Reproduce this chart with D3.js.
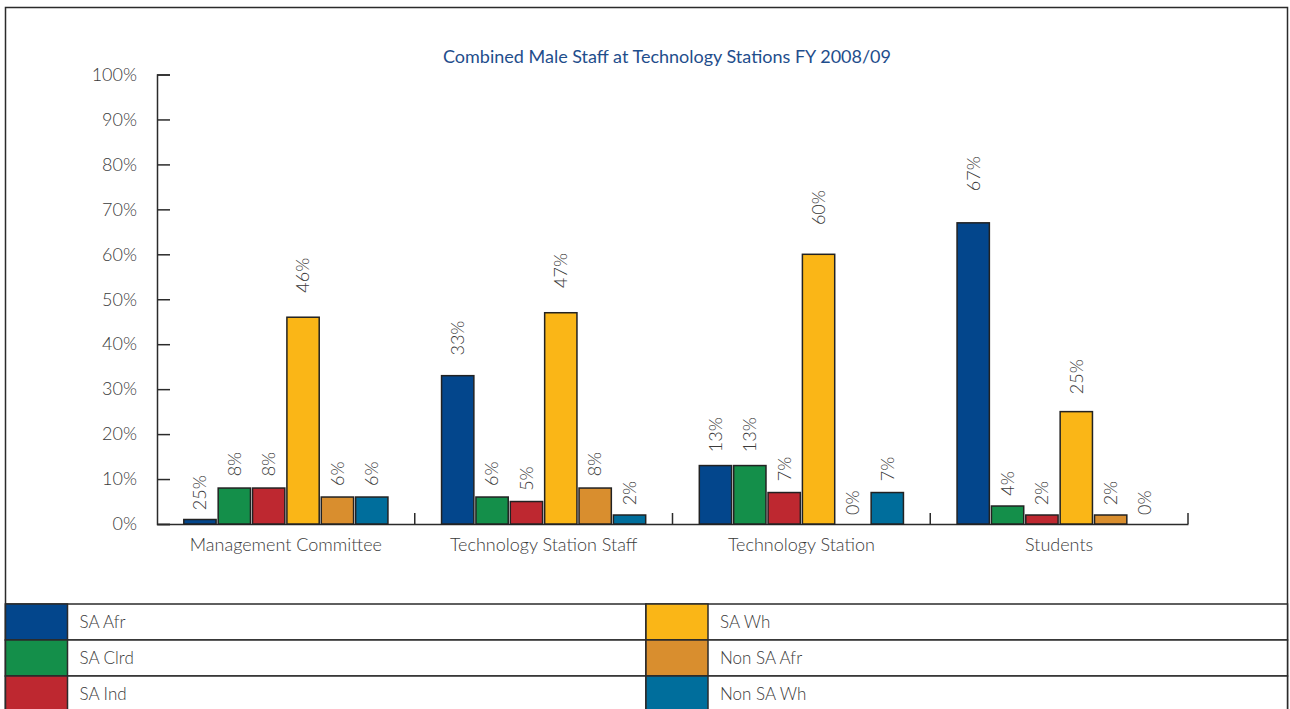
<!DOCTYPE html>
<html>
<head>
<meta charset="utf-8">
<script src="https://cdn.jsdelivr.net/npm/d3@7"></script>
<style>
  html, body { margin: 0; padding: 0; background: #fff; }
  svg { display: block; }
  text { font-family: "Lato", "Open Sans", sans-serif; }
</style>
</head>
<body>
<svg id="chart" width="1290" height="709"></svg>
<script>
// ---- Data ----
const title = "Combined Male Staff at Technology Stations FY 2008/09";
const categories = ["Management Committee", "Technology Station Staff", "Technology Station", "Students"];
const seriesNames = ["SA Afr", "SA Clrd", "SA Ind", "SA Wh", "Non SA Afr", "Non SA Wh"];
const seriesColors = ["#03468C", "#148F4A", "#BE2830", "#FAB617", "#D98E2E", "#006E9C"];
const saAfr    = [1, 33, 13, 67];
const saClrd   = [8, 6, 13, 4];
const saInd    = [8, 5, 7, 2];
const saWh     = [46, 47, 60, 25];
const nonSaAfr = [6, 8, 0, 2];
const nonSaWh  = [6, 2, 7, 0];
const saAfrLabels    = ["25%", "33%", "13%", "67%"];
const saClrdLabels   = ["8%", "6%", "13%", "4%"];
const saIndLabels    = ["8%", "5%", "7%", "2%"];
const saWhLabels     = ["46%", "47%", "60%", "25%"];
const nonSaAfrLabels = ["6%", "8%", "0%", "2%"];
const nonSaWhLabels  = ["6%", "2%", "7%", "0%"];
const yTicks = [0, 10, 20, 30, 40, 50, 60, 70, 80, 90, 100];

const seriesValues = [saAfr, saClrd, saInd, saWh, nonSaAfr, nonSaWh];
const seriesLabels = [saAfrLabels, saClrdLabels, saIndLabels, saWhLabels, nonSaAfrLabels, nonSaWhLabels];

// ---- Layout ----
const svg = d3.select("#chart");
const plotLeft = 157, plotRight = 1188, plotTop = 74.5, plotBottom = 524;
const lineColor = "#2b2b2b";
const textColor = "#3a3a3a";

// outer frame
svg.append("rect").attr("x", 5.5).attr("y", 7.5).attr("width", 1282).attr("height", 720)
  .attr("fill", "none").attr("stroke", lineColor).attr("stroke-width", 1.5);

// title
svg.append("text").attr("x", 667).attr("y", 63).attr("text-anchor", "middle")
  .attr("fill", "#1F4E8C").attr("font-size", 18).attr("font-weight", 400).text(title);

const y = d3.scaleLinear().domain([0, 100]).range([plotBottom, plotTop]);
const x0 = d3.scaleBand().domain(categories).range([plotLeft, plotRight]).padding(0);
const x1 = d3.scaleBand().domain(d3.range(seriesNames.length)).range([0, x0.bandwidth()])
  .paddingInner(0.06).paddingOuter(0.78);

// y axis
const yAxis = d3.axisLeft(y).tickValues(yTicks).tickFormat(d => d + "%").tickSize(-13).tickPadding(20);
const gy = svg.append("g").attr("transform", `translate(${plotLeft},0)`).call(yAxis);
gy.select(".domain").attr("stroke", lineColor).attr("stroke-width", 1.5);
gy.selectAll(".tick line").attr("stroke", lineColor).attr("stroke-width", 1.5);
gy.selectAll(".tick text").attr("font-size", 18).attr("font-weight", 300).attr("fill", textColor)
  .attr("font-family", "Lato, 'Open Sans', sans-serif");

// x axis
const xAxis = d3.axisBottom(x0).tickSize(0).tickPadding(14);
const gx = svg.append("g").attr("transform", `translate(0,${plotBottom})`).call(xAxis);
gx.select(".domain").attr("stroke", lineColor).attr("stroke-width", 1.5);
gx.selectAll(".tick text").attr("font-size", 18).attr("font-weight", 300).attr("fill", textColor)
  .attr("font-family", "Lato, 'Open Sans', sans-serif");
// category separators
svg.append("g").selectAll("line").data(categories).join("line")
  .attr("x1", d => x0(d) + x0.bandwidth()).attr("x2", d => x0(d) + x0.bandwidth())
  .attr("y1", plotBottom).attr("y2", plotBottom - 11)
  .attr("stroke", lineColor).attr("stroke-width", 1.5);

// bars
const barData = [];
seriesValues.forEach((vals, s) => {
  vals.forEach((v, c) => barData.push({ s, c, v, label: seriesLabels[s][c] }));
});
const barX = d => x0(categories[d.c]) + x1(d.s);
svg.append("g").selectAll("rect").data(barData).join("rect")
  .attr("x", barX)
  .attr("y", d => y(d.v))
  .attr("width", x1.bandwidth())
  .attr("height", d => y(0) - y(d.v))
  .attr("fill", d => seriesColors[d.s])
  .attr("stroke", "#222").attr("stroke-width", 1.5);

// value labels (rotated)
svg.append("g").selectAll("text").data(barData).join("text")
  .attr("transform", d => {
    const cx = barX(d) + x1.bandwidth() / 2;
    const h = y(0) - y(d.v);
    const ly = y(d.v) - 9 - 0.075 * h;
    return `translate(${cx},${ly}) rotate(-90)`;
  })
  .attr("dy", "0.35em")
  .attr("text-anchor", "start")
  .attr("font-size", 18).attr("font-weight", 300).attr("fill", textColor)
  .text(d => d.label);

// legend table
const legTop = 604, rowH = 36, colX = [5.5, 646], colW = [640.5, 641.5], swW = 62;
const lg = svg.append("g");
seriesNames.forEach((name, i) => {
  const col = Math.floor(i / 3), row = i % 3;
  const lx = colX[col], ly = legTop + row * rowH;
  lg.append("rect").attr("x", lx).attr("y", ly).attr("width", colW[col]).attr("height", rowH)
    .attr("fill", "#fff").attr("stroke", lineColor).attr("stroke-width", 1.5);
  lg.append("rect").attr("x", lx).attr("y", ly).attr("width", swW).attr("height", rowH)
    .attr("fill", seriesColors[i]).attr("stroke", lineColor).attr("stroke-width", 1.5);
  lg.append("text").attr("x", lx + swW + 12).attr("y", ly + rowH / 2).attr("dy", "0.35em")
    .attr("font-size", 17).attr("font-weight", 300).attr("fill", textColor).text(name);
});
</script>
</body>
</html>
